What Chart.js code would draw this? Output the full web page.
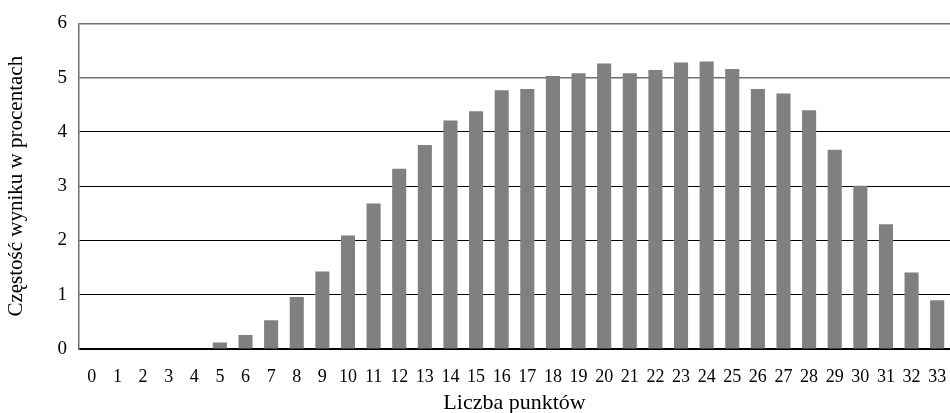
<html lang="pl">
<head>
  <meta charset="utf-8">
  <script src="https://cdn.jsdelivr.net/npm/chart.js@4.4.0/dist/chart.umd.min.js"></script>
  <style>
    html, body { margin: 0; padding: 0; background: #fff; }
    #wrap { width: 950px; height: 413px; }
  </style>
</head>
<body>
<div id="wrap"><canvas id="myChart" width="950" height="413"></canvas></div>
<script>
  // punkty 0..33
  const categories = ['0','1','2','3','4','5','6','7','8','9','10','11','12','13','14','15','16',
                      '17','18','19','20','21','22','23','24','25','26','27','28','29','30','31','32','33'];
  const percents = [0, 0, 0, 0, 0, 0.12, 0.26, 0.53, 0.96, 1.43, 2.09, 2.68, 3.32, 3.76, 4.21, 4.38, 4.77,
                    4.79, 5.03, 5.08, 5.26, 5.08, 5.14, 5.28, 5.30, 5.16, 4.79, 4.71, 4.40, 3.67, 3.01, 2.30, 1.41, 0.90];
  const yTicks = [0, 1, 2, 3, 4, 5, 6];

  const serif = '"Liberation Serif", "DejaVu Serif", serif';

  const ch = document.getElementById('myChart').getContext('2d');
  const chartVar = new Chart(ch, {
    type: 'bar',
    data: {
      labels: categories,
      datasets: [{
        label: 'Częstość',
        data: percents,
        backgroundColor: '#808080',
        borderWidth: 0,
        barPercentage: 0.55,
        categoryPercentage: 1.0
      }]
    },
    options: {
      responsive: false,
      animation: false,
      layout: { padding: { top: 19, right: 0, left: 0, bottom: 0 } },
      plugins: { legend: { display: false }, tooltip: { enabled: false } },
      scales: {
        x: {
          grid: { display: false, drawTicks: false },
          border: { display: true, color: '#000', width: 1.5 },
          ticks: { color: '#000', font: { family: serif, size: 18 }, padding: 17, maxRotation: 0, autoSkip: false },
          title: { display: true, text: 'Liczba punktów', color: '#000', font: { family: serif, size: 22 }, padding: { top: 0, bottom: -3 } },
          afterFit: function (scale) {
            scale.height = 64;
            scale.paddingLeft = 0;
            scale.paddingRight = 0;
          }
        },
        y: {
          min: 0,
          max: 6,
          afterBuildTicks: function (scale) { scale.ticks = yTicks.map(v => ({ value: v })); },
          grid: {
            drawTicks: false,
            color: function (c) { return c.tick && c.tick.value >= 5 ? '#6e6e6e' : '#000'; },
            lineWidth: function (c) { return c.tick && c.tick.value >= 5 ? 1.5 : 1; }
          },
          border: { display: true, color: '#6e6e6e', width: 1.5 },
          ticks: { color: '#000', font: { family: serif, size: 19 }, padding: 12 },
          title: { display: true, text: 'Częstość wyniku w procentach', color: '#000', font: { family: serif, size: 21 }, padding: { bottom: 0 } },
          afterFit: function (scale) { scale.width = 79; }
        }
      }
    }
  });
</script>
</body>
</html>
